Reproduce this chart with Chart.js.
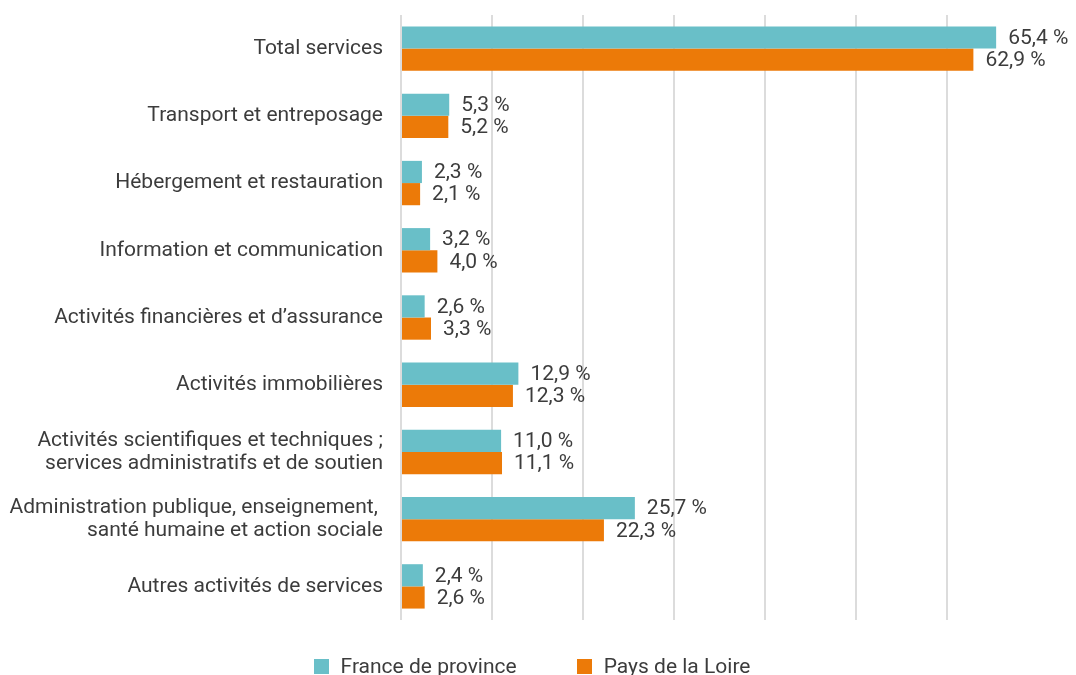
<!DOCTYPE html>
<html lang="fr">
<head>
<meta charset="utf-8">
<script src="https://cdn.jsdelivr.net/npm/chart.js@4/dist/chart.umd.min.js"></script>
<style>
    html, body { margin: 0; padding: 0; background: #fff; overflow: hidden; }
    #wrap { position: relative; width: 1076px; height: 675px; }
    #legend {
        position: absolute; left: -6px; top: 654px; width: 1076px;
        display: flex; justify-content: center; gap: 60px;
        font-family: Roboto, sans-serif; font-size: 21px; color: #3c3c3c;
    }
    #legend span.item { display: flex; align-items: center; }
    #legend i { display: inline-block; width: 15px; height: 15px; margin-right: 12px; }
</style>
</head>
<body>
<div id="wrap">
    <canvas id="chart" width="1076" height="675"></canvas>
    <div id="legend"></div>
</div>
<script>
// Data
const categories = [
    'Total services',
    'Transport et entreposage',
    'Hébergement et restauration',
    'Information et communication',
    'Activités financières et d\u2019assurance',
    'Activités immobilières',
    ['Activités scientifiques et techniques ;', 'services administratifs et de soutien'],
    ['Administration publique, enseignement, ', 'santé humaine et action sociale'],
    'Autres activités de services'
];
const seriesNames = ['France de province', 'Pays de la Loire'];
const franceProvince = [65.4, 5.3, 2.3, 3.2, 2.6, 12.9, 11.0, 25.7, 2.4];
const paysDeLaLoire = [62.9, 5.2, 2.1, 4.0, 3.3, 12.3, 11.1, 22.3, 2.6];
const xTicks = [0, 10, 20, 30, 40, 50, 60, 70];

const COLORS = ['#69bfc8', '#ec7a08'];
const TEXT = '#3c3c3c';
const FONT = 'Roboto, sans-serif';

function fmt(v) {
    return v.toFixed(1).replace('.', ',') + ' %';
}

// value labels at the end of each bar
const barLabels = {
    id: 'barLabels',
    afterDatasetsDraw(chart) {
        const ctx = chart.ctx;
        ctx.save();
        ctx.font = '21px ' + FONT;
        ctx.fillStyle = TEXT;
        ctx.textAlign = 'left';
        ctx.textBaseline = 'middle';
        chart.data.datasets.forEach((ds, i) => {
            chart.getDatasetMeta(i).data.forEach((bar, j) => {
                ctx.fillText(fmt(ds.data[j]), bar.x + 12, bar.y + 1);
            });
        });
        ctx.restore();
    }
};

const chart = new Chart(document.getElementById('chart'), {
    type: 'bar',
    data: {
        labels: categories,
        datasets: [
            { label: seriesNames[0], data: franceProvince, backgroundColor: COLORS[0] },
            { label: seriesNames[1], data: paysDeLaLoire, backgroundColor: COLORS[1] }
        ]
    },
    options: {
        indexAxis: 'y',
        responsive: false,
        animation: false,
        layout: { padding: { top: 15, right: 38, left: 0, bottom: 0 } },
        datasets: { bar: { categoryPercentage: 0.66, barPercentage: 1 } },
        plugins: {
            legend: { display: false },
            tooltip: { enabled: false }
        },
        scales: {
            x: {
                min: 0,
                max: 70,
                afterBuildTicks: (scale) => { scale.ticks = xTicks.map(v => ({ value: v })); },
                afterFit: (scale) => { scale.height = 55; },
                ticks: { display: false },
                border: { display: false },
                grid: {
                    drawTicks: false,
                    lineWidth: 2,
                    color: (c) => c.tick && c.tick.value === 70 ? 'rgba(0,0,0,0)' : '#dcdcdc'
                }
            },
            y: {
                afterFit: (scale) => {
                    scale.width = 401;
                    scale.paddingTop = 0;
                    scale.paddingBottom = 0;
                },
                border: { display: false },
                grid: { display: false, drawTicks: false },
                ticks: {
                    padding: 18,
                    color: TEXT,
                    font: { family: FONT, size: 21, lineHeight: 1.1 }
                }
            }
        }
    },
    plugins: [barLabels]
});

document.getElementById('legend').innerHTML = seriesNames.map((name, i) =>
    `<span class="item"><i style="background:${COLORS[i]}"></i>${name}</span>`
).join('');
</script>
</body>
</html>
